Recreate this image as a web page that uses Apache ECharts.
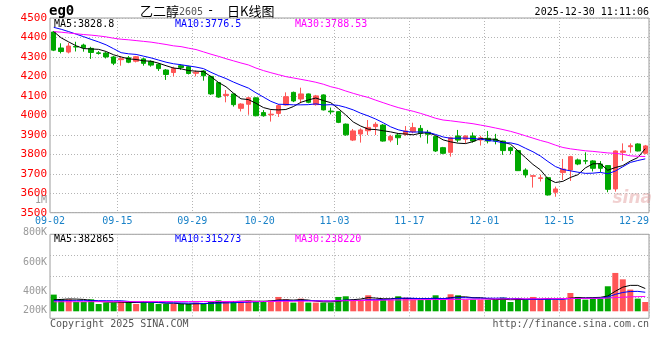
<!DOCTYPE html>
<html><head><meta charset="utf-8">
<script src="https://cdn.jsdelivr.net/npm/echarts@6/dist/echarts.min.js"></script>
<style>html,body{margin:0;padding:0;background:#fff}#c{width:660px;height:360px}</style>
</head><body><div id="c"></div>
<script>
// ---- data ----
const dates = ['09-02','09-03','09-04','09-05','09-08','09-09','09-10','09-11','09-12','09-15','09-16','09-17','09-18','09-19','09-22','09-23','09-24','09-25','09-26','09-29','09-30',
'10-09','10-10','10-13','10-14','10-15','10-16','10-17','10-20','10-21','10-22','10-23','10-24','10-27','10-28','10-29','10-30','10-31',
'11-03','11-04','11-05','11-06','11-07','11-10','11-11','11-12','11-13','11-14','11-17','11-18','11-19','11-20','11-21','11-24','11-25','11-26','11-27','11-28',
'12-01','12-02','12-03','12-04','12-05','12-08','12-09','12-10','12-11','12-12','12-15','12-16','12-17','12-18','12-19','12-22','12-23','12-24','12-25','12-26','12-29','12-30'];
const opens = [4428,4346,4325,4354,4361,4344,4321,4320,4300,4286,4296,4278,4290,4277,4262,4233,4220,4255,4250,4216,4228,4200,4168,4102,4110,4036,4057,4090,4014,4003,4010,4053,4118,4084,4110,4055,4105,4022,4019,3955,3873,3904,3921,3942,3950,3873,3899,3903,3916,3933,3913,3891,3834,3810,3894,3877,3894,3873,3882,3878,3868,3834,3819,3719,3687,3676,3680,3605,3706,3719,3771,3767,3766,3750,3742,3622,3810,3839,3853,3805];
const closes = [4335,4328,4356,4351,4347,4323,4318,4300,4268,4291,4273,4301,4267,4258,4240,4210,4240,4246,4215,4222,4203,4110,4094,4108,4055,4058,4090,3998,3998,4006,4050,4096,4074,4110,4067,4100,4028,4018,3964,3900,3920,3925,3938,3954,3868,3891,3885,3920,3937,3908,3903,3817,3805,3885,3873,3894,3868,3885,3868,3868,3819,3819,3716,3694,3690,3679,3591,3622,3724,3788,3750,3765,3728,3728,3620,3817,3817,3844,3817,3843];
const highs = [4433,4370,4372,4378,4368,4352,4330,4325,4305,4301,4305,4305,4295,4282,4268,4238,4250,4262,4255,4230,4232,4203,4170,4130,4112,4062,4095,4092,4027,4027,4058,4118,4122,4142,4112,4105,4108,4040,4022,3958,3930,3933,3976,3965,3955,3900,3908,3945,3962,3950,3925,3895,3838,3890,3925,3897,3912,3895,3920,3905,3870,3840,3821,3728,3692,3695,3684,3634,3776,3792,3778,3810,3770,3765,3745,3820,3856,3856,3856,3848];
const lows = [4330,4318,4318,4328,4327,4290,4312,4292,4258,4255,4268,4272,4255,4250,4228,4182,4200,4234,4210,4200,4178,4105,4090,4067,4045,4020,4003,3995,3993,3968,3992,4050,4068,4062,4062,4050,4025,4005,3960,3895,3868,3860,3899,3899,3865,3862,3848,3895,3908,3886,3855,3812,3800,3788,3862,3856,3860,3845,3856,3851,3797,3800,3714,3680,3629,3660,3588,3582,3668,3663,3744,3749,3712,3708,3605,3608,3766,3808,3815,3800];
const ma5 = [4430,4398,4377,4357,4343,4341,4339,4328,4311,4300,4290,4287,4280,4278,4268,4255,4243,4239,4230,4227,4225,4199,4169,4147,4114,4085,4081,4062,4040,4030,4028,4030,4045,4067,4079,4089,4076,4065,4035,4002,3966,3945,3929,3927,3921,3915,3907,3904,3900,3908,3911,3897,3874,3864,3857,3855,3865,3881,3878,3877,3862,3852,3818,3783,3748,3720,3674,3655,3661,3681,3695,3730,3751,3752,3718,3732,3742,3765,3783,3828.8];
const ma10 = [4452,4442,4430,4417,4404,4390,4377,4362,4342,4322,4316,4313,4304,4295,4284,4273,4265,4260,4254,4248,4240,4221,4204,4189,4171,4155,4140,4116,4094,4072,4057,4056,4054,4054,4055,4059,4053,4055,4051,4041,4028,4011,3997,3981,3962,3941,3926,3917,3914,3915,3913,3902,3889,3882,3883,3883,3881,3878,3871,3867,3859,3859,3850,3831,3813,3791,3763,3737,3722,3715,3708,3702,3703,3707,3700,3714,3736,3758,3768,3776.5];
const ma30 = [4430,4427,4423,4419,4415,4412,4408,4403,4396,4391,4388,4384,4380,4376,4370,4364,4357,4353,4345,4338,4326,4314,4303,4291,4280,4269,4259,4243,4230,4219,4209,4199,4192,4185,4178,4170,4160,4147,4138,4125,4113,4102,4092,4078,4065,4052,4040,4030,4021,4010,3998,3985,3976,3972,3967,3962,3957,3950,3943,3935,3927,3918,3907,3895,3883,3871,3861,3847,3835,3828,3823,3818,3815,3811,3807,3805,3800,3792,3790,3788.53];
const volumes = [298,214,214,166,166,214,130,155,155,166,179,130,179,155,130,130,130,130,130,155,130,179,196,179,179,166,196,179,179,196,256,214,155,226,155,155,155,155,256,268,208,208,286,208,208,208,268,244,208,208,208,286,208,304,286,208,208,208,208,208,244,166,226,208,256,208,226,208,208,327,256,208,226,226,447,685,571,387,226,166].map(v => v * 1000);
const volMa5 = [205,212,220,218,212,195,178,166,164,164,157,157,162,162,155,145,145,135,130,135,135,145,158,168,173,180,183,180,180,183,201,205,200,209,201,181,169,169,175,198,208,219,245,236,224,224,236,227,227,227,227,231,224,243,258,258,243,243,224,208,215,207,210,210,220,213,225,221,221,235,245,241,245,249,273,358,431,463,463,407].map(v => v * 1000);
const volMa10 = [190,190,190,190,190,190,190,189,188,188,176,168,164,163,160,151,151,149,146,145,140,145,147,149,154,158,164,169,174,178,191,194,190,195,192,191,187,185,192,200,195,194,207,206,211,216,228,236,232,226,226,234,226,235,243,243,237,234,234,233,237,225,227,217,214,214,216,216,216,228,229,233,233,235,254,302,336,354,356,340].map(v => v * 1000);
const volMa30 = [170,170,171,171,171,172,172,172,172,173,173,173,173,173,174,174,174,174,174,175,175,175,175,175,176,176,176,176,176,176,178,179,180,181,182,183,184,185,187,189,191,193,195,197,199,201,203,205,207,208,209,210,211,212,213,214,215,216,218,219,220,221,222,223,224,225,226,227,228,229,230,231,232,233,236,245,252,258,262,265].map(v => v * 1000);
const xTickLabels = ['09-02','09-15','09-29','10-20','11-03','11-17','12-01','12-15','12-29'];
const volTickLabels = ['1M','800K','600K','400K','200K'];
const priceMaTexts = ['MA5:3828.8','MA10:3776.5','MA30:3788.53'];
const volMaTexts = ['MA5:382865','MA10:315273','MA30:238220'];
const titleParts = ['eg0','乙二醇','2605','-','日K线图'];
const timeText = '2025-12-30 11:11:06';
const footTexts = ['Copyright 2025 SINA.COM','http://finance.sina.com.cn'];

// ---- chart ----
const UP = '#ff5656', DOWN = '#00a800';
const MONO = '"DejaVu Sans Mono", "Liberation Mono", monospace';
const CJK = '"Noto Sans CJK SC", sans-serif';
const labelIdx = new Set(xTickLabels.map(d => dates.indexOf(d)));
const gridIdx = new Set(xTickLabels.slice(1, -1).map(d => dates.indexOf(d)));
const dotted = {color: '#b4b4b4', width: 1, type: [1, 2]};
const maColors = ['#000000', '#0000ff', '#ff00ff'];

const chart = echarts.init(document.getElementById('c'));
function txt(x, y, text, fill, font, align) {
  return {type: 'text', x: x, y: y, silent: true,
    style: {text: text, fill: fill, font: font, textAlign: align || 'left', textVerticalAlign: 'middle', align: align || 'left', verticalAlign: 'middle'}};
}
const graphics = [
  txt(49, 11, titleParts[0], '#000', 'bold 14px ' + MONO),
  txt(140, 11, titleParts[1], '#000', '13px ' + CJK),
  txt(179, 12, titleParts[2], '#555', '10px ' + MONO),
  txt(207, 11, titleParts[3], '#000', '12px ' + MONO),
  txt(227, 11, titleParts[4], '#000', '13px ' + CJK),
  txt(649, 12, timeText, '#000', '10px ' + MONO, 'right'),
  txt(54, 24, priceMaTexts[0], maColors[0], '10px ' + MONO),
  txt(175, 24, priceMaTexts[1], maColors[1], '10px ' + MONO),
  txt(295, 24, priceMaTexts[2], maColors[2], '10px ' + MONO),
  txt(54, 239, volMaTexts[0], maColors[0], '10px ' + MONO),
  txt(175, 239, volMaTexts[1], maColors[1], '10px ' + MONO),
  txt(295, 239, volMaTexts[2], maColors[2], '10px ' + MONO),
  txt(50, 324, footTexts[0], '#555', '10px ' + MONO),
  txt(649, 324, footTexts[1], '#555', '10px ' + MONO, 'right'),
  txt(652, 199, 'sina', 'rgba(215,120,120,0.35)', 'italic bold 17px "DejaVu Sans", sans-serif', 'right')
];
const volLabelY = [200, 232, 262, 291, 310];
volTickLabels.forEach((t, k) => graphics.push(txt(47, volLabelY[k], t, '#9a9a9a', '10px ' + MONO, 'right')));

function maLine(data, color, xi, yi) {
  return {type: 'line', data: data, xAxisIndex: xi, yAxisIndex: yi, showSymbol: false, symbol: 'none',
    lineStyle: {color: color, width: 1}, itemStyle: {color: color}, z: 5, silent: true};
}

chart.setOption({
  animation: false,
  backgroundColor: '#ffffff',
  grid: [
    {left: 50, right: 11, top: 18, height: 194.7, show: true, borderColor: '#9c9c9c', borderWidth: 1},
    {left: 50, right: 11, top: 234.3, height: 84, show: true, borderColor: '#9c9c9c', borderWidth: 1}
  ],
  xAxis: [
    {type: 'category', gridIndex: 0, data: dates, boundaryGap: true,
      axisLine: {show: false}, axisTick: {show: false},
      axisLabel: {interval: (i) => labelIdx.has(i), color: '#1a82c8', fontFamily: MONO, fontSize: 10, margin: 4, padding: [0, 7.5, 0, 0]},
      splitLine: {show: true, interval: (i) => gridIdx.has(i), lineStyle: dotted}},
    {type: 'category', gridIndex: 1, data: dates, boundaryGap: true,
      axisLine: {show: false}, axisTick: {show: false}, axisLabel: {show: false},
      splitLine: {show: true, interval: (i) => gridIdx.has(i), lineStyle: dotted}}
  ],
  yAxis: [
    {type: 'value', gridIndex: 0, min: 3500, max: 4500, interval: 100,
      axisLine: {show: false}, axisTick: {show: false},
      axisLabel: {color: '#ff0000', fontFamily: MONO, fontSize: 11, margin: 3, formatter: (v) => String(v)},
      splitLine: {show: true, lineStyle: dotted}},
    {type: 'value', gridIndex: 1, min: -125000, max: 1375000, interval: 375000,
      axisLine: {show: false}, axisTick: {show: false}, axisLabel: {show: false},
      splitLine: {show: true, lineStyle: dotted}}
  ],
  series: [
    {type: 'candlestick', xAxisIndex: 0, yAxisIndex: 0, barWidth: 5,
      data: dates.map((d, i) => [opens[i], closes[i], lows[i], highs[i]]),
      itemStyle: {color: UP, color0: DOWN, borderColor: UP, borderColor0: DOWN, borderWidth: 1}},
    maLine(ma5, maColors[0], 0, 0),
    maLine(ma10, maColors[1], 0, 0),
    maLine(ma30, maColors[2], 0, 0),
    {type: 'bar', xAxisIndex: 1, yAxisIndex: 1, barWidth: 6,
      data: volumes.map((v, i) => ({value: v, itemStyle: {color: closes[i] >= opens[i] ? UP : DOWN}}))},
    maLine(volMa5, maColors[0], 1, 1),
    maLine(volMa10, maColors[1], 1, 1),
    maLine(volMa30, maColors[2], 1, 1)
  ],
  graphic: graphics
});
</script></body></html>
